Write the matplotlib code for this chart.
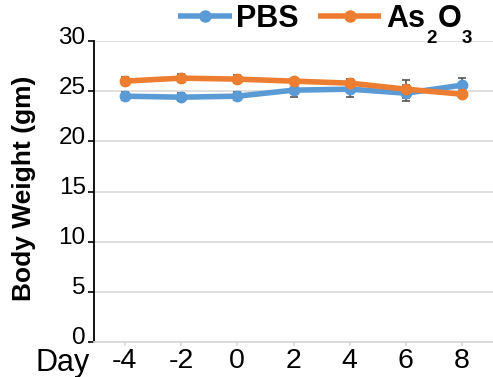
import matplotlib
matplotlib.use("Agg")
import matplotlib.pyplot as plt
from matplotlib.lines import Line2D
from matplotlib.transforms import ScaledTranslation

plt.rcParams['font.family'] = ['Liberation Sans', 'DejaVu Sans']

days = ['-4', '-2', '0', '2', '4', '6', '8']
pbs = [24.5, 24.4, 24.5, 25.1, 25.2, 24.8, 25.6]
pbs_err = [0.4, 0.4, 0.4, 0.7, 0.8, 0.8, 0.7]
as2o3 = [26.0, 26.3, 26.2, 26.0, 25.8, 25.2, 24.7]
as2o3_err = [0.4, 0.4, 0.4, 0.3, 0.4, 0.9, 0.3]

blue = '#5B9BD5'
orange = '#ED7D31'
W, H = 493, 377

fig = plt.figure(figsize=(W / 100, H / 100), dpi=100)
ax = fig.add_axes([94 / W, 1 - 342 / H, 1 - 94 / W, (342 - 41) / H])

x = list(range(len(days)))
ax.errorbar(x, pbs, yerr=pbs_err, fmt='none', ecolor='#555555', elinewidth=1.2, capsize=3, capthick=1.2, zorder=2)
ax.errorbar(x, as2o3, yerr=as2o3_err, fmt='none', ecolor='#555555', elinewidth=1.2, capsize=3, capthick=1.2, zorder=2)
ax.plot(x, pbs, '-o', color=blue, lw=4, ms=7.5, zorder=3)
ax.plot(x, as2o3, '-o', color=orange, lw=4, ms=7.5, zorder=4)

ax.set_xlim(-0.55, 6.55)
ax.set_ylim(0, 30)
ax.set_yticks(range(0, 31, 5))
ax.set_xticks(x)
ax.set_xticklabels(days)
ax.yaxis.grid(True, color='#d9d9d9', lw=1.2)
ax.set_axisbelow(True)

for s in ['top', 'right']:
    ax.spines[s].set_visible(False)
ax.spines['left'].set_color('black')
ax.spines['left'].set_linewidth(1.3)
ax.spines['bottom'].set_color('#d9d9d9')
ax.spines['bottom'].set_linewidth(1.3)

ax.tick_params(axis='y', labelsize=17.5, length=4, width=1.2, direction='out', pad=2)
ax.tick_params(axis='x', labelsize=20.5, length=3, width=1.2, color='#d9d9d9', pad=1)

# y labels sit a little above their gridlines
up = ScaledTranslation(0, 6 / 100, fig.dpi_scale_trans)
for tk in ax.yaxis.get_major_ticks():
    tk.label1.set_transform(tk.label1.get_transform() + up)

fig.text(24 / W, 1 - 188 / H, 'Body Weight (gm)', fontsize=19, fontweight='bold',
         rotation=90, ha='center', va='center')
fig.text(35 / W, 6 / H, 'Day', fontsize=22, ha='left', va='baseline')

# legend drawn by hand so the subscripts sit low like the original
ly = 1 - 16 / H
for x0, x1, c in [(178, 232, blue), (318, 381, orange)]:
    fig.add_artist(Line2D([x0 / W, x1 / W], [ly, ly], transform=fig.transFigure,
                          color=c, lw=4, solid_capstyle='butt'))
    fig.add_artist(Line2D([(x0 + x1) / 2 / W], [ly], transform=fig.transFigure,
                          marker='o', color=c, ms=8))

base = 1 - 27 / H
sub = 1 - 43 / H
fig.text(236 / W, base, 'PBS', fontsize=22, fontweight='bold', va='baseline')
fig.canvas.draw()
r = fig.canvas.get_renderer()
xpos = 386
for txt, yb, fs in [('As', base, 22), ('2', sub, 13.5), ('O', base, 22), ('3', sub, 13.5)]:
    t = fig.text(xpos / W, yb, txt, fontsize=fs, fontweight='bold', va='baseline')
    xpos = t.get_window_extent(r).x1 + 1

fig.savefig('out.png', dpi=100)
